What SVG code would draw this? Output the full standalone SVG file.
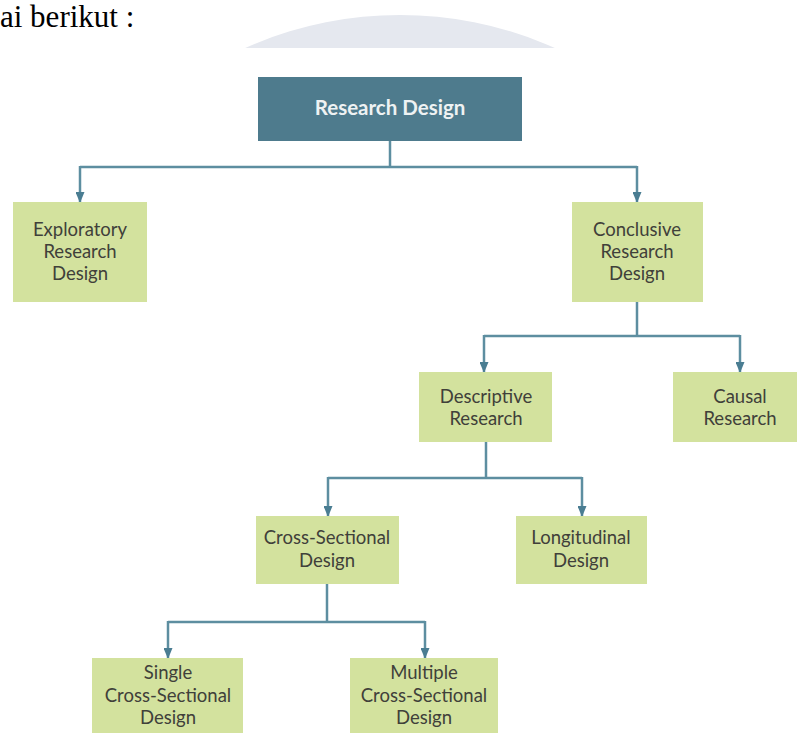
<svg xmlns="http://www.w3.org/2000/svg" width="797" height="733" viewBox="0 0 797 733">
<style>
.box{fill:#d3e29e}
.top{fill:#4e7b8d}
.t{font-family:Lato,"Open Sans",sans-serif;font-size:18.5px;fill:#40403a;text-anchor:middle}
.tt{font-family:Lato,"Open Sans",sans-serif;font-size:20.5px;font-weight:bold;fill:#eef2f3;text-anchor:middle}
.c{fill:none;stroke:#5d8ea0;stroke-width:2.5}
</style>
<defs>
<marker id="ah" markerWidth="11" markerHeight="9" refX="10" refY="4.5" orient="auto" markerUnits="userSpaceOnUse">
<path d="M0,0 L11,4.5 L0,9 Z" fill="#4a7d92"/>
</marker>
<clipPath id="cp"><rect x="0" y="0" width="797" height="48"/></clipPath>
</defs>
<rect width="797" height="733" fill="#ffffff"/>
<text x="0" y="27" font-family="Liberation Serif,serif" font-size="31" fill="#000">ai berikut :</text>
<circle cx="400" cy="395" r="380" fill="#e5e8ef" clip-path="url(#cp)"/>
<g id="connectors">
<path class="c" d="M390,141 V167"/>
<path class="c" d="M80,167 H637" />
<path class="c" d="M80,166 V202" marker-end="url(#ah)"/>
<path class="c" d="M637,166 V202" marker-end="url(#ah)"/>
<path class="c" d="M637,302 V336"/>
<path class="c" d="M484,336 H740"/>
<path class="c" d="M484,335 V372" marker-end="url(#ah)"/>
<path class="c" d="M740,335 V372" marker-end="url(#ah)"/>
<path class="c" d="M486,442 V478"/>
<path class="c" d="M328,478 H582"/>
<path class="c" d="M328,477 V516" marker-end="url(#ah)"/>
<path class="c" d="M582,477 V516" marker-end="url(#ah)"/>
<path class="c" d="M327,584 V622"/>
<path class="c" d="M168,622 H425"/>
<path class="c" d="M168,621 V658" marker-end="url(#ah)"/>
<path class="c" d="M425,621 V658" marker-end="url(#ah)"/>
</g>
<g id="research-design">
<rect class="top" x="258" y="77" width="264" height="64"/>
<text class="tt" x="390" y="115">Research Design</text>
</g>
<g id="exploratory">
<rect class="box" x="13" y="202" width="134" height="100"/>
<text class="t" x="80" y="236">Exploratory</text>
<text class="t" x="80" y="258">Research</text>
<text class="t" x="80" y="280">Design</text>
</g>
<g id="conclusive">
<rect class="box" x="572" y="202" width="131" height="100"/>
<text class="t" x="637" y="236">Conclusive</text>
<text class="t" x="637" y="258">Research</text>
<text class="t" x="637" y="280">Design</text>
</g>
<g id="descriptive">
<rect class="box" x="419" y="372" width="133" height="70"/>
<text class="t" x="486" y="403">Descriptive</text>
<text class="t" x="486" y="425">Research</text>
</g>
<g id="causal">
<rect class="box" x="673" y="372" width="124" height="70"/>
<text class="t" x="740" y="403">Causal</text>
<text class="t" x="740" y="425">Research</text>
</g>
<g id="cross-sectional">
<rect class="box" x="256" y="516" width="143" height="68"/>
<text class="t" x="327" y="544">Cross-Sectional</text>
<text class="t" x="327" y="567">Design</text>
</g>
<g id="longitudinal">
<rect class="box" x="516" y="516" width="131" height="68"/>
<text class="t" x="581" y="544">Longitudinal</text>
<text class="t" x="581" y="567">Design</text>
</g>
<g id="single">
<rect class="box" x="92" y="658" width="151" height="75"/>
<text class="t" x="168" y="679">Single</text>
<text class="t" x="168" y="702">Cross-Sectional</text>
<text class="t" x="168" y="724">Design</text>
</g>
<g id="multiple">
<rect class="box" x="350" y="658" width="148" height="75"/>
<text class="t" x="424" y="679">Multiple</text>
<text class="t" x="424" y="702">Cross-Sectional</text>
<text class="t" x="424" y="724">Design</text>
</g>
</svg>
